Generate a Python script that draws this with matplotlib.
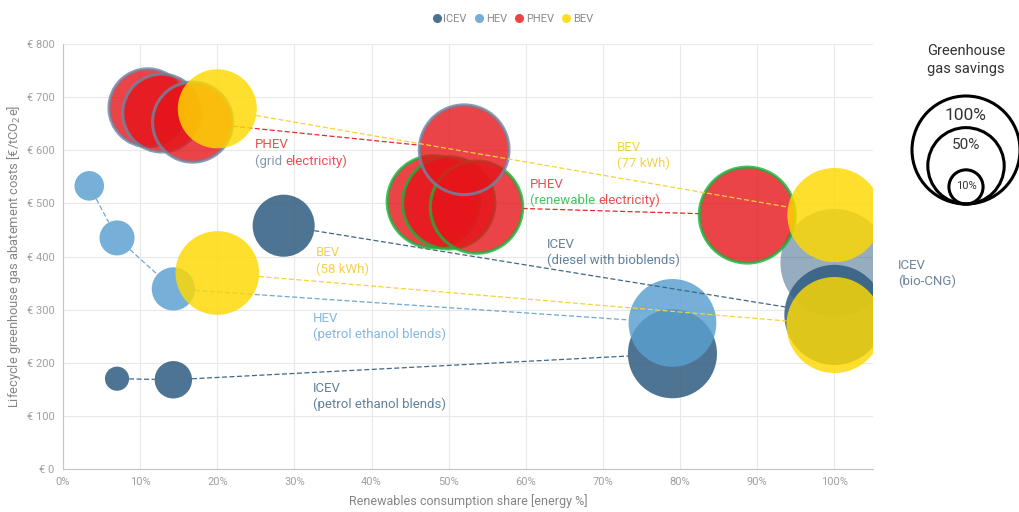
import matplotlib.pyplot as plt
from matplotlib.lines import Line2D
from matplotlib.ticker import FuncFormatter, MultipleLocator
import numpy as np

plt.rcParams['font.family'] = ['Roboto', 'DejaVu Sans']

# renewable share (fraction), abatement cost (EUR/tCO2e), GHG savings (fraction)
icev_petrol_x = [0.07, 0.143, 0.79]
icev_petrol_y = [170, 168, 217]
icev_petrol_s = [0.05, 0.12, 0.68]

hev_x = [0.034, 0.07, 0.143, 0.79]
hev_y = [533, 435, 339, 275]
hev_s = [0.075, 0.105, 0.16, 0.66]

icev_diesel_x = [0.286, 1.0]
icev_diesel_y = [458, 290]
icev_diesel_s = [0.33, 0.86]

icev_cng_x = [1.0]
icev_cng_y = [388]
icev_cng_s = [1.0]

phev_ren_x = [0.48, 0.50, 0.536, 0.887]
phev_ren_y = [503, 501, 493, 478]
phev_ren_s = [0.73, 0.73, 0.73, 0.79]

phev_grid_x = [0.11, 0.128, 0.168, 0.52]
phev_grid_y = [680, 670, 653, 601]
phev_grid_s = [0.52, 0.52, 0.55, 0.69]

bev77_x = [0.20, 1.0]
bev77_y = [678, 478]
bev77_s = [0.535, 0.76]

bev58_x = [0.20, 1.0]
bev58_y = [369, 271]
bev58_s = [0.60, 0.79]

legend_sizes = [1.0, 0.5, 0.1]
legend_labels = ['100%', '50%', '10%']

ICEV = '#2f5c80'
HEV = '#5a9fcf'
PHEV = '#e5151a'
BEV = '#ffd900'
GRID_EDGE = '#6d87a3'
GREEN = '#19b33a'

SCALE = 6050  # marker area (pt^2) for 100 % savings
R100 = 54     # radius in px for 100 %

fig = plt.figure(figsize=(10.2, 5.12), dpi=100)
ax = fig.add_axes([0.0618, 0.084, 0.7941, 0.830])
ax.set_xlim(0, 1.05)
ax.set_ylim(0, 800)


def trimmed_line(x, y, s, color, z):
    # dashed connector running between bubble edges
    pts = ax.transData.transform(np.column_stack([x, y]))
    inv = ax.transData.inverted()
    for i in range(len(x) - 1):
        p0, p1 = pts[i], pts[i + 1]
        d = p1 - p0
        L = np.hypot(*d)
        r0, r1 = R100 * s[i] ** 0.5, R100 * s[i + 1] ** 0.5
        if L <= r0 + r1:
            continue
        u = d / L
        a, b = inv.transform([p0 + u * r0, p1 - u * r1])
        ax.plot([a[0], b[0]], [a[1], b[1]], ls=(0, (4, 2)), lw=0.9, color=color, zorder=z)


def series(x, y, s, color, alpha, z, edge='none', lcolor=None, line=True):
    if line:
        trimmed_line(x, y, s, lcolor or color, z)
    ax.scatter(x, y, s=[SCALE * v for v in s], color=color, alpha=alpha,
               edgecolors=edge, linewidths=2.2, zorder=z + 0.5)


series(icev_petrol_x, icev_petrol_y, icev_petrol_s, ICEV, 0.85, 2, lcolor='#3f6787')
series(hev_x, hev_y, hev_s, HEV, 0.83, 3, lcolor='#6ea8d3')
series(icev_cng_x, icev_cng_y, icev_cng_s, ICEV, 0.5, 4, line=False)
series(icev_diesel_x, icev_diesel_y, icev_diesel_s, ICEV, 0.85, 5, lcolor='#3f6787')
series(phev_ren_x, phev_ren_y, phev_ren_s, PHEV, 0.8, 6, edge=GREEN, lcolor='#e8262b')
series(phev_grid_x, phev_grid_y, phev_grid_s, PHEV, 0.8, 7, edge=GRID_EDGE, lcolor='#e8262b')
series(bev77_x, bev77_y, bev77_s, BEV, 0.82, 8, lcolor='#f7d13a')
series(bev58_x, bev58_y, bev58_s, BEV, 0.82, 9, lcolor='#f7d13a')

ax.xaxis.set_major_locator(MultipleLocator(0.1))
ax.yaxis.set_major_locator(MultipleLocator(100))
ax.xaxis.set_major_formatter(FuncFormatter(lambda v, p: f'{v*100:.0f}%' if v <= 1.0001 else ''))
ax.yaxis.set_major_formatter(FuncFormatter(lambda v, p: f'€ {v:.0f}'))
ax.grid(True, color='#e8e8e8', lw=0.8)
ax.set_axisbelow(True)
for sp in ['top', 'right']:
    ax.spines[sp].set_visible(False)
for sp in ['left', 'bottom']:
    ax.spines[sp].set_color('#c4c4c4')
ax.tick_params(length=0, labelsize=8, colors='#a0a0a0', pad=6)
ax.set_xlabel('Renewables consumption share [energy %]', fontsize=9, color='#858585', labelpad=5)
ax.set_ylabel('Lifecycle greenhouse gas abatement costs [€/tCO$_2$e]', fontsize=9.3, color='#858585', labelpad=3)

# series labels
FS = 9.5
RED_T = '#ea5053'
GREEN_T = '#45c662'
SLATE_T = '#62819c'
BLUE_T = '#86b8de'
YEL_T = '#f4d24a'
GRIDT = '#8398ad'


def label(x, y1, y2, l1, parts, c1):
    ax.text(x, y1, l1, color=c1, fontsize=FS, va='center', zorder=20, clip_on=False)
    prev = None
    for txt, c in parts:
        if prev is None:
            prev = ax.text(x, y2, txt, color=c, fontsize=FS, va='center', zorder=20, clip_on=False)
        else:
            prev = ax.annotate(txt, xy=(1, 0), xycoords=prev, va='bottom', ha='left',
                               color=c, fontsize=FS, zorder=20)


label(0.249, 610, 580, 'PHEV', [('(grid ', GRIDT), ('electricity)', RED_T)], RED_T)
label(0.605, 535, 505, 'PHEV', [('(renewable ', GREEN_T), ('electricity)', RED_T)], RED_T)
label(0.718, 606, 576, 'BEV', [('(77 kWh)', YEL_T)], YEL_T)
label(0.328, 407, 375, 'BEV', [('(58 kWh)', YEL_T)], YEL_T)
label(0.627, 422, 392, 'ICEV', [('(diesel with bioblends)', SLATE_T)], SLATE_T)
label(0.324, 284, 254, 'HEV', [('(petrol ethanol blends)', BLUE_T)], BLUE_T)
label(0.324, 151, 121, 'ICEV', [('(petrol ethanol blends)', SLATE_T)], SLATE_T)
label(1.082, 384, 354, 'ICEV', [('(bio-CNG)', '#6e849a')], '#6e849a')

# top legend
handles = [Line2D([], [], ls='none', marker='o', ms=5.5, color=c, label=l)
           for c, l in [('#4a7291', 'ICEV'), ('#75aed6', 'HEV'), ('#ec4447', 'PHEV'), ('#ffdd22', 'BEV')]]
fig.legend(handles=handles, loc='center', bbox_to_anchor=(0.502, 0.963), ncol=4, frameon=False,
           fontsize=8, labelcolor='#8a8a8a', handletextpad=0.1, columnspacing=0.6, handlelength=1)

# size key
ov = fig.add_axes([0, 0, 1, 1])
ov.set_xlim(0, 1020)
ov.set_ylim(512, 0)
ov.axis('off')
ov.text(966, 60, 'Greenhouse\ngas savings', ha='center', va='center', fontsize=10.5,
        color='#333333', linespacing=1.3)
base = 204
for v, lab, fs, ty in zip(legend_sizes, legend_labels, [12.5, 11, 8], [115, 145, 186]):
    r = R100 * v ** 0.5
    ov.scatter([966], [base - r], s=SCALE * v, facecolors='none', edgecolors='black', linewidths=2.2)
    ov.text(966, ty, lab, ha='center', va='center', fontsize=fs, color='#333333')

fig.savefig('out.png', dpi=100)
